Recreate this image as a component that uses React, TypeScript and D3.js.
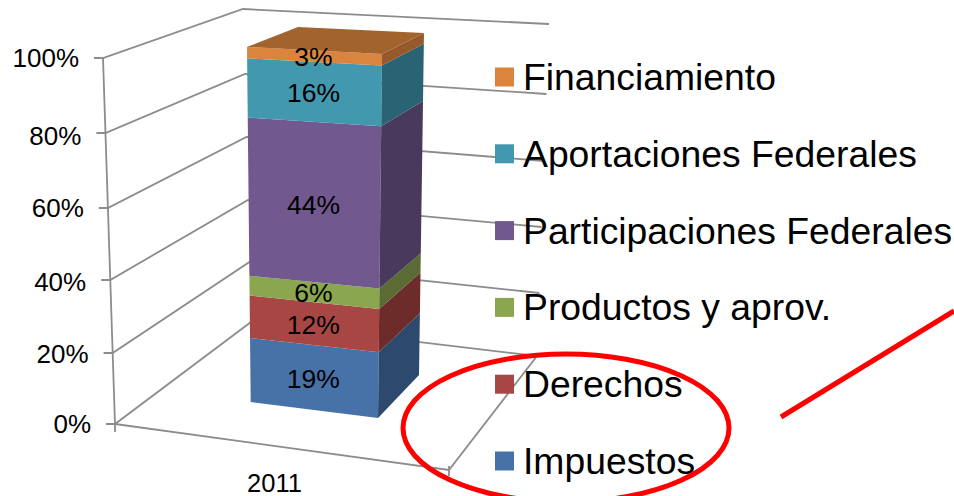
import * as d3 from "d3";

const width = 954;
const height = 496;

// bottom to top, same order as the stack
const categories = ["Impuestos", "Derechos", "Productos y aprov.", "Participaciones Federales", "Aportaciones Federales", "Financiamiento"];
const values = [18.6, 12, 5.6, 44.4, 16.3, 3.1];
const frontColors = ["#4672a8", "#a84644", "#8aa64f", "#71588f", "#4198af", "#db843d"];
const sideColors = ["#2d4a6e", "#6d2c2a", "#5a6c33", "#49395d", "#2a6373", "#965a2a"];
const topColor = "#a3632d";
const gridColor = "#8c8c8c";
const year = "2011";
const ticks = [0, 20, 40, 60, 80, 100];

// the chart is a 3D picture, so every edge gets its own pair of scales
const edge = (xs: number[], ys: number[]) => ({
  x: d3.scaleLinear(ticks, xs),
  y: d3.scaleLinear(ticks, ys),
});
const frontLeft = edge([115, 112.6, 110.2, 107.8, 105.4, 103], [424, 353, 280, 208, 133, 58]);
const backLeft = edge([251, 249.5, 248, 246.5, 245, 243], [322, 262, 200, 137, 74, 9]);
const backRight = edge([537, 539.5, 541.5, 544, 546.5, 549], [356, 293, 227, 161, 94, 24]);
const floorFront: [number, number] = [449, 470];
// tick labels do not sit quite level with their ticks in the original
const tickLabelY = d3.scaleLinear(ticks, [424, 354, 282, 208, 135.5, 58]);

// the bar sits on the floor, with less height per percent near the bottom
const rise = d3.scaleLinear(ticks, ticks.map((t) => (frontLeft.y(0) - frontLeft.y(t)) / (frontLeft.y(0) - frontLeft.y(100))));
const barEdge = (x0: number, y0: number, x1: number, y1: number) => (v: number): [number, number] => {
  const t = rise(v);
  return [x0 + (x1 - x0) * t, y0 + (y1 - y0) * t];
};
const barFL = barEdge(250.7, 402, 247, 47);
const barFR = barEdge(378, 418, 382, 54);
const barBR = barEdge(419, 375, 424, 33);
const barBLTop: [number, number] = [298, 27];

const row: any = {};
values.forEach((v, i) => (row[i] = v));
const series = d3.stack<any>().keys(categories.map((_, i) => String(i)))([row]);

const poly = d3.line();

const legendY = d3.scaleLinear([0, 5], [461, 77]);

export default function App() {
  return (
    <svg
      width={width}
      height={height}
      style={{ position: "absolute", left: 0, top: 0, background: "#fff", fontFamily: "'Liberation Sans', Arial, sans-serif" }}
    >
      {/* walls and floor */}
      <g fill="none" stroke={gridColor} strokeWidth={1.8}>
        {ticks.map((t) => (
          <path
            key={t}
            d={poly([
              [frontLeft.x(t) - 9, frontLeft.y(t)],
              [frontLeft.x(t), frontLeft.y(t)],
              [backLeft.x(t), backLeft.y(t)],
              [backRight.x(t), backRight.y(t)],
            ]) as string}
          />
        ))}
        <path d={poly([[frontLeft.x(100), frontLeft.y(100)], [frontLeft.x(0), frontLeft.y(0)], [frontLeft.x(0), frontLeft.y(0) + 8]]) as string} />
        <path d={poly([[frontLeft.x(0), frontLeft.y(0)], floorFront, [backRight.x(0), backRight.y(0)]]) as string} />
        <path d={poly([[floorFront[0], floorFront[1] - 4], [floorFront[0], floorFront[1] + 6]]) as string} />
      </g>

      {/* axis labels */}
      <g fontSize={26} fill="#000" textAnchor="end">
        {ticks.map((t) => (
          <text key={t} x={frontLeft.x(t) - 24} y={tickLabelY(t)} dy="0.35em">
            {t}%
          </text>
        ))}
      </g>
      <text x={274.5} y={483} dy="0.35em" fontSize={25.5} textAnchor="middle" fill="#000">
        {year}
      </text>

      {/* stacked column */}
      {series.map((s, i) => {
        const [v0, v1] = s[0];
        return (
          <g key={i}>
            <path d={(poly([barFL(v0), barFR(v0), barFR(v1), barFL(v1)]) as string) + "Z"} fill={frontColors[i]} />
            <path d={(poly([barFR(v0), barBR(v0), barBR(v1), barFR(v1)]) as string) + "Z"} fill={sideColors[i]} />
          </g>
        );
      })}
      <path d={(poly([barFL(100), barFR(100), barBR(100), barBLTop]) as string) + "Z"} fill={topColor} />

      {/* value labels, in the middle of each front face */}
      <g fontSize={26.5} fill="#000" textAnchor="middle">
        {series.map((s, i) => {
          const mid = (s[0][0] + s[0][1]) / 2;
          const a = barFL(mid);
          const b = barFR(mid);
          return (
            <text key={i} x={(a[0] + b[0]) / 2 - 1} y={(a[1] + b[1]) / 2 + 1} dy="0.35em">
              {Math.round(values[i])}%
            </text>
          );
        })}
      </g>

      {/* legend */}
      {categories.map((c, i) => (
        <g key={c} transform={`translate(495,${legendY(i)})`}>
          <rect x={0} y={-9.5} width={19} height={19} fill={frontColors[i]} />
          <text x={28} dy="0.35em" fontSize={37.3} fill="#000">
            {c}
          </text>
        </g>
      ))}

      {/* red annotation */}
      <ellipse cx={566} cy={428} rx={163} ry={74} fill="none" stroke="#f00" strokeWidth={5} />
      <path d="M781,417L954,311" fill="none" stroke="#f00" strokeWidth={5} />
    </svg>
  );
}
